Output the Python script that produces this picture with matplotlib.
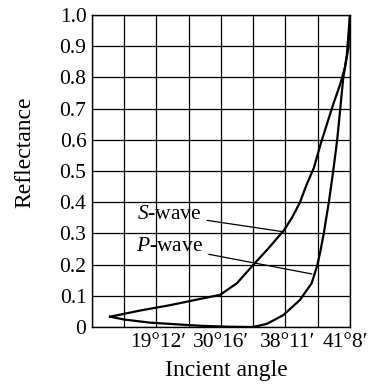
import numpy as np
import matplotlib
matplotlib.use('Agg')
import matplotlib.pyplot as plt

plt.rcParams['font.family'] = ['Liberation Serif', 'DejaVu Serif']
plt.rcParams['mathtext.fontset'] = 'custom'
plt.rcParams['mathtext.rm'] = 'Liberation Serif'
plt.rcParams['mathtext.it'] = 'Liberation Serif:italic'

s_x = [0.56, 1.5, 2.42, 3.35, 3.97, 4.49, 5.0, 5.47, 5.95, 6.2, 6.45, 6.65, 6.88,
       7.1, 7.33, 7.5, 7.69, 7.84, 7.95, 8.0]
s_y = [0.033, 0.053, 0.070, 0.090, 0.103, 0.14, 0.199, 0.252, 0.31, 0.35, 0.40, 0.455, 0.51,
       0.59, 0.665, 0.72, 0.776, 0.83, 0.893, 1.0]

p_x = [0.56, 1.0, 1.8, 2.42, 3.35, 4.2, 5.0, 5.42, 5.93, 6.45, 6.81, 6.99, 7.09,
       7.19, 7.35, 7.48, 7.6, 7.68, 7.79, 7.9, 8.0]
p_y = [0.033, 0.024, 0.014, 0.010, 0.004, 0.001, 0.0, 0.01, 0.038, 0.087, 0.14, 0.199, 0.247,
       0.302, 0.404, 0.50, 0.597, 0.68, 0.797, 0.87, 1.0]

grid_cols = [0, 1, 2, 3, 4, 5, 6, 7, 8]
angle_pos = [2.05, 4.0, 6.05, 7.85]
angle_labels = ["19°12′", "30°16′", "38°11′", "41°8′"]
y_ticks = [0, 0.1, 0.2, 0.3, 0.4, 0.5, 0.6, 0.7, 0.8, 0.9, 1.0]
y_labels = ["0", "0.1", "0.2", "0.3", "0.4", "0.5", "0.6", "0.7", "0.8", "0.9", "1.0"]


def plot():
    fig = plt.figure(figsize=(3.7, 3.84), dpi=100)
    ax = fig.add_axes([0.2486, 0.1484, 0.6973, 0.8125])

    ax.set_xlim(0, 8)
    ax.set_ylim(0, 1.0)
    ax.set_xticks(angle_pos, angle_labels)
    ax.set_yticks(y_ticks, y_labels)
    ax.tick_params(axis='both', length=0, labelsize=15.5)
    ax.tick_params(axis='x', pad=4)
    ax.tick_params(axis='y', pad=4)
    ax.grid(True, axis='y', color='black', linewidth=0.9)
    for c in grid_cols:
        ax.axvline(c, color='black', linewidth=0.9, zorder=0.5)
    for sp in ax.spines.values():
        sp.set_linewidth(1.0)

    ax.plot(s_x, s_y, color='black', linewidth=1.6, solid_joinstyle='round')
    ax.plot(p_x, p_y, color='black', linewidth=1.6, solid_joinstyle='round')

    ax.annotate("$S$-wave", xy=(5.95, 0.305), xytext=(3.4, 0.36),
                ha='right', va='center', fontsize=15.5,
                arrowprops=dict(arrowstyle='-', color='black', linewidth=0.9,
                                shrinkA=2, shrinkB=0))
    ax.annotate("$P$-wave", xy=(6.82, 0.17), xytext=(3.45, 0.257),
                ha='right', va='center', fontsize=15.5,
                arrowprops=dict(arrowstyle='-', color='black', linewidth=0.9,
                                shrinkA=2, shrinkB=0))

    ax.set_xlabel("Incient angle", fontsize=17)
    ax.set_ylabel("Reflectance", fontsize=17)
    ax.xaxis.set_label_coords(0.52, -0.105)
    ax.yaxis.set_label_coords(-0.22, 0.56)
    fig.savefig("out.png", dpi=100)


def main():
    plot()


if __name__ == '__main__':
    main()
